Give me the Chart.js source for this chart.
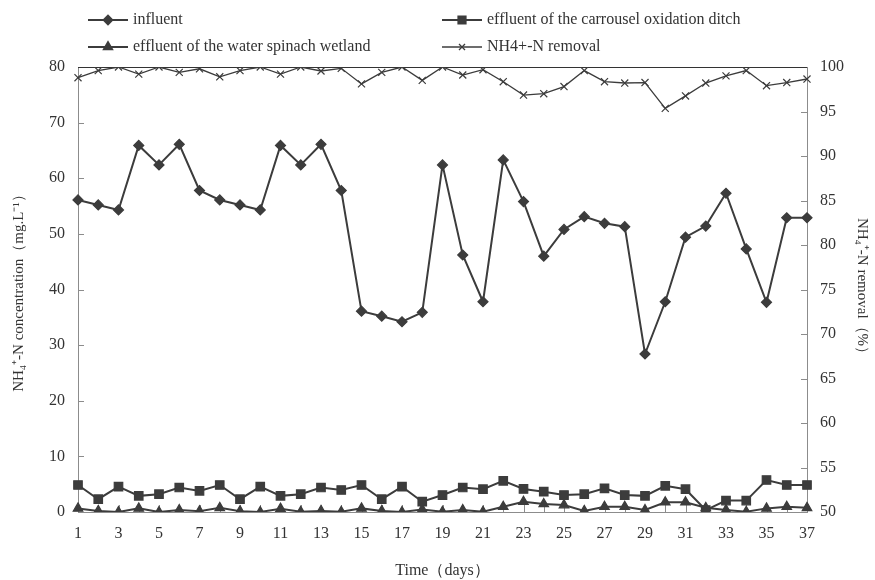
<!DOCTYPE html>
<html>
<head>
<meta charset="utf-8">
<script src="https://cdn.jsdelivr.net/npm/chart.js@4/dist/chart.umd.min.js"></script>
<style>
html,body{margin:0;padding:0;background:#fff;}
#wrap{position:relative;width:875px;height:580px;}
</style>
</head>
<body>
<div id="wrap"><canvas id="c" width="875" height="580"></canvas></div>
<script>
// ---- data ----
const days = ['1','2','3','4','5','6','7','8','9','10','11','12','13','14','15','16','17','18','19','20','21','22','23','24','25','26','27','28','29','30','31','32','33','34','35','36','37'];
const xTickLabels = ['1','3','5','7','9','11','13','15','17','19','21','23','25','27','29','31','33','35','37'];
const influent = [56.1,55.2,54.3,65.9,62.4,66.1,57.8,56.1,55.2,54.3,65.9,62.4,66.1,57.8,36.1,35.2,34.2,35.9,62.4,46.2,37.8,63.3,55.8,46.0,50.8,53.1,51.9,51.3,28.4,37.8,49.4,51.4,57.3,47.3,37.7,52.9,52.9];
const carrousel = [4.85,2.3,4.55,2.9,3.2,4.4,3.8,4.85,2.3,4.55,2.9,3.2,4.4,3.95,4.85,2.3,4.55,1.85,3.05,4.4,4.1,5.6,4.15,3.65,3.05,3.2,4.25,3.05,2.9,4.7,4.1,0.35,2.05,2.05,5.75,4.85,4.85];
const wetland = [0.65,0.2,0.0,0.65,0.0,0.35,0.15,0.75,0.15,0.0,0.6,0.05,0.2,0.05,0.65,0.2,0.0,0.45,0.05,0.35,0.05,0.95,1.85,1.45,1.25,0.2,0.95,0.95,0.35,1.75,1.75,0.75,0.35,0.05,0.65,0.95,0.75];
const removal = [98.8,99.6,100,99.2,100,99.4,99.8,98.9,99.6,100,99.2,100,99.55,99.85,98.1,99.4,100,98.5,100,99.1,99.7,98.35,96.85,97.0,97.8,99.6,98.35,98.2,98.25,95.35,96.75,98.2,99.0,99.6,97.9,98.25,98.65];
const seriesNames = ['influent','effluent of the carrousel oxidation ditch','effluent of the water spinach wetland','NH4+-N removal'];
const leftTicks = {min:0, max:80, step:10};
const rightTicks = {min:50, max:100, step:5};

const LINE = '#3c3c3c';
const AXIS = '#8c8c8c';
const TEXT = '#333333';
const FONT = '"Liberation Serif","Times New Roman",serif';

const inwardTicks = {
  id:'inwardTicks',
  beforeDatasetsDraw(chart){
    const ctx = chart.ctx, a = chart.chartArea;
    ctx.save();
    ctx.strokeStyle = AXIS; ctx.lineWidth = 1;
    const y = chart.scales.y, y1 = chart.scales.y1, x = chart.scales.x;
    y.ticks.forEach((t,i)=>{const p=Math.round(y.getPixelForTick(i))+0.5; ctx.beginPath(); ctx.moveTo(a.left,p); ctx.lineTo(a.left+6,p); ctx.stroke();});
    y1.ticks.forEach((t,i)=>{const p=Math.round(y1.getPixelForTick(i))+0.5; ctx.beginPath(); ctx.moveTo(a.right,p); ctx.lineTo(a.right-6,p); ctx.stroke();});
    days.forEach((d,i)=>{const p=Math.round(x.getPixelForValue(i))+0.5; ctx.beginPath(); ctx.moveTo(p,a.bottom); ctx.lineTo(p,a.bottom-7); ctx.stroke();});
    ctx.strokeStyle = '#333'; ctx.beginPath(); ctx.moveTo(a.left, Math.round(a.top)+0.5); ctx.lineTo(a.right, Math.round(a.top)+0.5); ctx.stroke();
    ctx.restore();
  }
};

const customLegend = {
  id:'customLegend',
  afterDraw(chart){
    const ctx = chart.ctx;
    const pos = [[88,20],[442,20],[88,47],[442,47]];
    ctx.save();
    pos.forEach((p,di)=>{
      const ds = chart.data.datasets[di];
      const [x0,yy] = p;
      ctx.strokeStyle = ds.borderColor; ctx.lineWidth = ds.borderWidth;
      ctx.beginPath(); ctx.moveTo(x0,yy); ctx.lineTo(x0+40,yy); ctx.stroke();
      ctx.strokeStyle = ds.borderColor; ctx.fillStyle = ds.borderColor;
      Chart.helpers.drawPoint(ctx,{pointStyle:ds.pointStyle, radius:ds.pointRadius*0.85, borderWidth:1}, x0+20, yy);
      ctx.fillStyle = TEXT; ctx.font = '16px ' + FONT; ctx.textBaseline='middle'; ctx.textAlign='left';
      ctx.fillText(ds.label, x0+45, yy);
    });
    ctx.restore();
  }
};

function ds(label,data,style,r,bw,axis){
  return {label, data, yAxisID:axis, borderColor:LINE, backgroundColor:LINE, pointBackgroundColor:LINE, pointBorderColor:LINE,
    pointStyle:style, pointRadius:r, pointHoverRadius:r, borderWidth:bw, pointBorderWidth:1.2, tension:0, fill:false};
}

new Chart(document.getElementById('c'),{
  type:'line',
  data:{
    labels:days,
    datasets:[
      ds(seriesNames[0],influent,'rectRot',5,2,'y'),
      ds(seriesNames[1],carrousel,'rect',6,2,'y'),
      ds(seriesNames[2],wetland,'triangle',5.5,2,'y'),
      ds(seriesNames[3],removal,'crossRot',5,1.3,'y1')
    ]
  },
  options:{
    responsive:false, animation:false,
    layout:{padding:{top:67,left:0,right:0,bottom:0}},
    plugins:{legend:{display:false}, tooltip:{enabled:false}},
    scales:{
      x:{
        type:'category', offset:false,
        grid:{display:false, drawTicks:false},
        border:{color:AXIS, width:1},
        ticks:{autoSkip:false, maxRotation:0, padding:12, color:TEXT, font:{family:FONT,size:16},
          callback:function(v,i){const l=days[i]; return xTickLabels.includes(l)?l:'';}},
        title:{display:true, text:'Time（days）', color:TEXT, font:{family:FONT,size:16}, padding:{top:0,bottom:0}},
        afterFit(s){s.height=68;}
      },
      y:{
        position:'left', min:leftTicks.min, max:leftTicks.max,
        grid:{display:false, drawTicks:false},
        border:{color:AXIS, width:1},
        ticks:{stepSize:leftTicks.step, padding:13, color:TEXT, font:{family:FONT,size:16}},
        title:{display:true, text:'NH₄⁺-N concentration（mg.L⁻¹）', color:TEXT, font:{family:FONT,size:15}, padding:{top:10,bottom:0}},
        afterFit(s){s.width=78;}
      },
      y1:{
        position:'right', min:rightTicks.min, max:rightTicks.max,
        grid:{display:false, drawTicks:false},
        border:{color:AXIS, width:1},
        ticks:{stepSize:rightTicks.step, padding:13, color:TEXT, font:{family:FONT,size:16}},
        title:{display:true, text:'NH₄⁺-N removal（%）', color:TEXT, font:{family:FONT,size:15}, padding:{top:4,bottom:0}},
        afterFit(s){s.width=68;}
      }
    }
  },
  plugins:[inwardTicks, customLegend]
});
</script>
</body>
</html>
